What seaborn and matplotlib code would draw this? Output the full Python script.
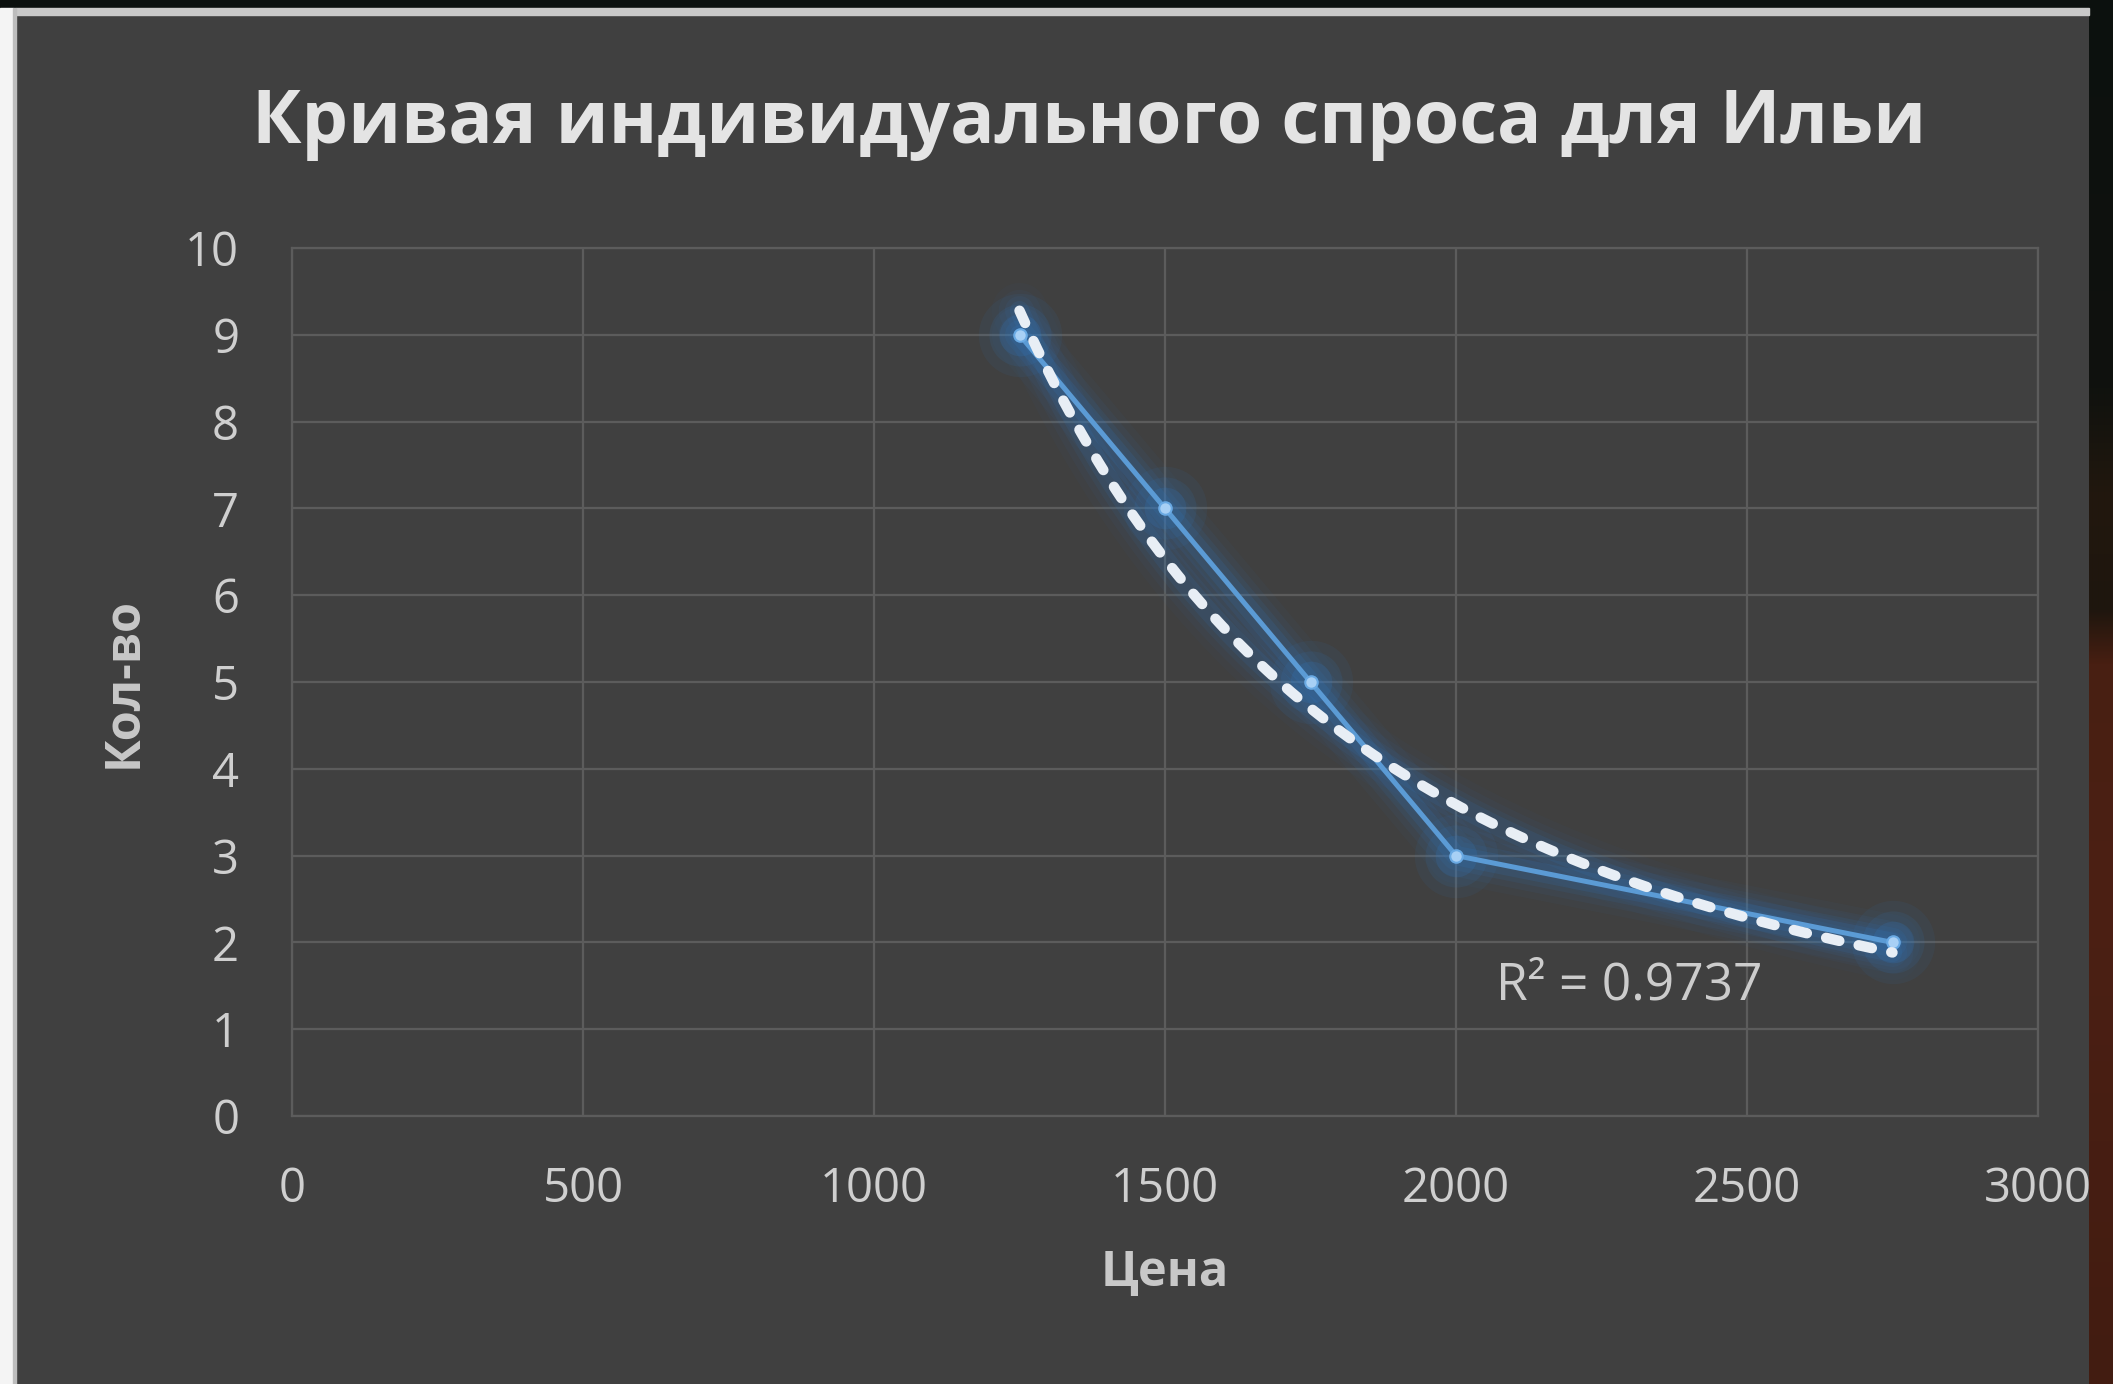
import numpy as np
import pandas as pd
import matplotlib
matplotlib.use("Agg")
import matplotlib.pyplot as plt
import seaborn as sns
from matplotlib.patches import Rectangle

# Demand schedule: price vs quantity
price = [1250, 1500, 1750, 2000, 2750]
quantity = [9, 7, 5, 3, 2]

x_ticks = [0, 500, 1000, 1500, 2000, 2500, 3000]
y_ticks = [0, 1, 2, 3, 4, 5, 6, 7, 8, 9, 10]

title = "Кривая индивидуального спроса для Ильи"
x_label = "Цена"
y_label = "Кол-во"
r2_label = "R² = 0.9737"

df = pd.DataFrame({"price": price, "qty": quantity})

# Power trend line y = a * x^b, fitted in log space
b, ln_a = np.polyfit(np.log(price), np.log(quantity), 1)
xs = np.linspace(min(price), max(price), 300)
trend = pd.DataFrame({"x": xs, "y": np.exp(ln_a) * xs ** b})

sns.set_theme(style="dark")
plt.rcParams["font.family"] = ["Open Sans", "DejaVu Sans"]

BG = "#404040"
GRID = "#5c5c5c"
W, H = 2113, 1384

fig = plt.figure(figsize=(W / 100, H / 100), dpi=100, facecolor=BG)
ax = fig.add_axes([292 / W, 1 - 1116 / H, (2038 - 292) / W, (1116 - 248) / H])
ax.set_facecolor(BG)

# soft blue glow under both lines
glow = "#2f7fd0"
for lw, al in [(40, 0.04), (30, 0.06), (21, 0.09), (14, 0.13)]:
    ax.plot(df["price"], df["qty"], color=glow, lw=lw, alpha=al,
            solid_capstyle="round", solid_joinstyle="round", zorder=2)
    ax.plot(trend["x"], trend["y"], color=glow, lw=lw, alpha=al * 0.8,
            solid_capstyle="round", zorder=2)
for s, al in [(3600, 0.07), (2000, 0.10), (900, 0.16)]:
    ax.scatter(df["price"], df["qty"], s=s, color=glow, alpha=al,
               linewidths=0, zorder=2)

sns.lineplot(data=df, x="price", y="qty", ax=ax, color="#5b9bd5", lw=3.6,
             marker="o", markersize=9, markerfacecolor="#a8d0f5",
             markeredgecolor="#6aaae4", markeredgewidth=1.5, zorder=4)

sns.lineplot(data=trend, x="x", y="y", ax=ax, color="#e8eef5", lw=7.5,
             linestyle=(0, (1.3, 1.9)), dash_capstyle="round", zorder=5)

ax.set_xlim(0, 3000)
ax.set_ylim(0, 10)
ax.set_xticks(x_ticks)
ax.set_yticks(y_ticks)
ax.set_xticklabels([str(v) for v in x_ticks])
ax.set_yticklabels([str(v) for v in y_ticks])
ax.tick_params(axis="both", length=0, labelsize=34, labelcolor="#cfcfcf")
ax.tick_params(axis="y", pad=38)
ax.tick_params(axis="x", pad=36)

ax.grid(True, color=GRID, lw=1.6)
for sp in ax.spines.values():
    sp.set_visible(True)
    sp.set_color(GRID)
    sp.set_linewidth(1.6)

ax.set_xlabel(x_label, fontsize=35, fontweight="bold", color="#c8c8c8")
ax.set_ylabel(y_label, fontsize=35, fontweight="bold", color="#c8c8c8")
ax.xaxis.set_label_coords(0.5, -0.181)
ax.yaxis.set_label_coords(-0.0962, 0.5)
ax.xaxis.label.set_va("center")
ax.yaxis.label.set_va("center")

ax.text(2068, 1.5, r2_label, ha="left", va="center", fontsize=37,
        color="#cccccc", zorder=6)

fig.text(1089 / W, 1 - 124 / H, title, ha="center", va="center",
         fontsize=53, fontweight="bold", color="#e4e4e4")

# surrounding window edges
fig.add_artist(Rectangle((0, 1 - 8 / H), 1, 8 / H, transform=fig.transFigure,
                         color="#0b100e", zorder=10))
fig.add_artist(Rectangle((16 / W, 1 - 15 / H), (2089 - 16) / W, 7 / H,
                         transform=fig.transFigure, color="#c9c9c9", zorder=10))
fig.add_artist(Rectangle((0, 0), 13 / W, 1 - 8 / H, transform=fig.transFigure,
                         color="#f4f4f4", zorder=10))
fig.add_artist(Rectangle((13 / W, 0), 3 / W, 1 - 8 / H, transform=fig.transFigure,
                         color="#bdbdbd", zorder=10))

edge = fig.add_axes([2089 / W, 0, (W - 2089) / W, 1])
stops = [(0.0, (12, 17, 15)), (0.28, (16, 18, 14)), (0.36, (34, 24, 14)),
         (0.44, (30, 22, 14)), (0.48, (72, 31, 18)), (0.65, (76, 32, 20)),
         (1.0, (66, 28, 17))]
pos = np.linspace(0, 1, H)
rgb = np.stack([np.interp(pos, [s[0] for s in stops], [s[1][c] for s in stops])
                for c in range(3)], axis=-1) / 255.0
edge.imshow(rgb[:, None, :], aspect="auto", interpolation="bilinear")
edge.set_axis_off()

fig.savefig("out.png", dpi=100, facecolor=BG)
